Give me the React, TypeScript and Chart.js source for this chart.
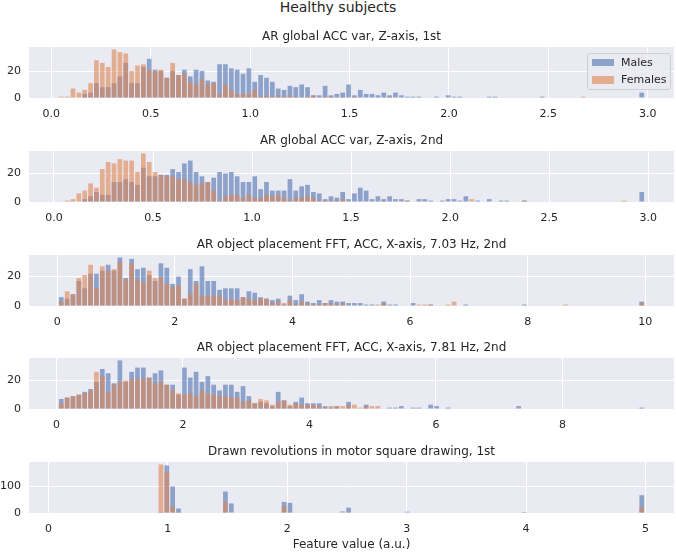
import React, { useEffect, useRef } from "react";
import { Chart, registerables } from "chart.js";

Chart.register(...registerables);

const FONT = "'DejaVu Sans', 'Liberation Sans', sans-serif";
const TEXT = "#262626";
const AXES_BG = "#EAEAF2";
const MALE_COLOR = "rgba(76, 114, 176, 0.6)";
const FEMALE_COLOR = "rgba(221, 132, 82, 0.6)";

Chart.defaults.font.family = FONT;
Chart.defaults.color = TEXT;

// ---------- text ----------
const SUPTITLE = "Healthy subjects";
const TITLES = [
  "AR global ACC var, Z-axis, 1st",
  "AR global ACC var, Z-axis, 2nd",
  "AR object placement FFT, ACC, X-axis, 7.03 Hz, 2nd",
  "AR object placement FFT, ACC, X-axis, 7.81 Hz, 2nd",
  "Drawn revolutions in motor square drawing, 1st",
];
const X_LABEL = "Feature value (a.u.)";
const LEGEND_LABELS = ["Males", "Females"];

// ---------- histogram bins (first edge, width) ----------
const BIN_STARTS = [0.035, 0.022, 0.02, 0.03, 0.083];
const BIN_WIDTHS = [0.0295, 0.0296, 0.0997, 0.0927, 0.0491];

// ---------- counts per bin ----------
const MALES_1 = [
  0, 0, 0, 0, 3, 4, 11, 8, 8, 11,
  16, 26, 11, 11, 23, 29, 21, 20, 15, 20,
  17, 21, 16, 21, 20, 13, 12, 25, 25, 22,
  21, 18, 22, 12, 17, 15, 12, 7, 6, 9,
  8, 10, 8, 2, 2, 9, 2, 3, 4, 10,
  2, 6, 3, 3, 2, 4, 2, 4, 2, 1,
  1, 1, 0, 0, 1, 0, 2, 1, 1, 0,
  0, 0, 0, 1, 1, 0, 0, 0, 0, 0,
  0, 0, 1, 0, 0, 0, 0, 0, 0, 0,
  0, 0, 0, 0, 0, 0, 0, 0, 0, 4,
];
const FEMALES_1 = [
  1, 1, 7, 4, 6, 11, 28, 26, 23, 36,
  34, 33, 20, 24, 25, 21, 20, 21, 15, 26,
  17, 18, 12, 10, 14, 10, 11, 3, 10, 6,
  3, 3, 3, 6, 1, 2, 1, 2, 1, 2,
  1, 0, 1, 2, 0, 1, 1, 0, 1, 0,
  1, 0, 0, 0, 0, 0, 1, 0, 0, 0,
  0, 0, 0, 0, 0, 0, 0, 0, 0, 0,
  0, 0, 0, 0, 0, 0, 0, 0, 0, 0,
  0, 0, 0, 0, 0, 0, 0, 0, 0, 1,
  0, 0, 0, 0, 0, 0, 0, 0, 0, 0,
];
const MALES_2 = [
  0, 0, 0, 0, 2, 4, 7, 5, 5, 14,
  14, 16, 14, 12, 24, 18, 18, 19, 19, 23,
  21, 27, 29, 21, 18, 14, 17, 21, 20, 21,
  18, 14, 14, 18, 9, 14, 8, 8, 8, 16,
  8, 11, 12, 7, 6, 2, 4, 3, 7, 2,
  6, 10, 8, 2, 4, 2, 4, 2, 2, 1,
  0, 2, 2, 1, 0, 1, 2, 2, 1, 4,
  0, 1, 0, 2, 0, 1, 1, 0, 0, 1,
  0, 0, 0, 0, 0, 0, 0, 0, 0, 0,
  0, 0, 0, 0, 0, 0, 0, 0, 0, 7,
];
const FEMALES_2 = [
  0, 1, 2, 6, 8, 13, 10, 23, 28, 27,
  30, 29, 29, 21, 34, 28, 21, 19, 18, 18,
  16, 16, 14, 12, 13, 14, 8, 1, 4, 5,
  5, 3, 5, 3, 3, 5, 4, 5, 3, 1,
  3, 3, 4, 3, 1, 1, 1, 1, 2, 0,
  0, 0, 0, 0, 0, 1, 0, 0, 0, 1,
  0, 0, 0, 0, 0, 0, 0, 0, 0, 0,
  2, 0, 0, 0, 0, 0, 0, 0, 0, 1,
  0, 0, 0, 0, 0, 0, 0, 0, 0, 0,
  0, 0, 0, 0, 0, 0, 1, 0, 0, 0,
];
const MALES_3 = [
  6, 5, 8, 17, 12, 22, 22, 24, 28, 24,
  33, 19, 32, 25, 26, 21, 17, 29, 26, 15,
  20, 5, 25, 17, 27, 17, 17, 11, 12, 12,
  12, 6, 10, 9, 6, 5, 4, 5, 1, 7,
  4, 8, 3, 2, 4, 2, 4, 3, 3, 2,
  2, 2, 1, 1, 0, 3, 1, 1, 0, 0,
  2, 0, 0, 1, 0, 0, 0, 0, 0, 1,
  0, 0, 0, 0, 0, 0, 0, 0, 0, 1,
  0, 0, 0, 0, 0, 0, 0, 0, 0, 0,
  0, 0, 0, 0, 0, 0, 0, 0, 0, 3,
];
const FEMALES_3 = [
  3, 10, 8, 19, 21, 28, 12, 27, 24, 25,
  30, 18, 29, 18, 16, 24, 19, 19, 15, 13,
  14, 5, 8, 15, 7, 7, 7, 7, 4, 5,
  4, 6, 5, 4, 5, 5, 2, 3, 2, 4,
  1, 3, 2, 1, 1, 2, 2, 1, 2, 0,
  0, 0, 0, 0, 1, 2, 0, 0, 0, 0,
  0, 1, 1, 1, 0, 0, 1, 3, 0, 0,
  0, 0, 0, 0, 0, 0, 0, 0, 0, 0,
  0, 0, 0, 0, 0, 0, 1, 0, 0, 0,
  0, 0, 0, 0, 0, 0, 0, 0, 0, 2,
];
const MALES_4 = [
  7, 8, 9, 10, 12, 14, 19, 28, 25, 18,
  34, 19, 26, 29, 29, 22, 25, 27, 17, 17,
  10, 29, 22, 26, 19, 23, 17, 13, 17, 17,
  12, 16, 9, 4, 5, 4, 2, 12, 6, 2,
  5, 8, 4, 4, 4, 2, 1, 2, 0, 5,
  0, 0, 3, 0, 0, 0, 1, 1, 2, 0,
  1, 1, 0, 3, 2, 0, 1, 0, 0, 0,
  0, 0, 0, 0, 0, 0, 0, 0, 2, 0,
  0, 0, 0, 0, 0, 0, 0, 0, 0, 0,
  0, 0, 0, 0, 0, 0, 0, 0, 0, 1,
];
const FEMALES_4 = [
  4, 8, 9, 10, 11, 13, 26, 23, 12, 17,
  19, 20, 21, 21, 21, 22, 18, 19, 17, 13,
  11, 10, 11, 9, 13, 11, 10, 9, 9, 8,
  8, 5, 6, 4, 7, 6, 3, 5, 6, 3,
  4, 3, 3, 3, 2, 1, 2, 2, 2, 3,
  3, 1, 2, 2, 2, 0, 0, 0, 0, 0,
  0, 0, 0, 0, 0, 0, 0, 0, 0, 0,
  0, 0, 0, 0, 0, 0, 0, 0, 0, 0,
  0, 0, 0, 0, 0, 0, 0, 0, 0, 0,
  0, 0, 0, 0, 0, 0, 0, 0, 0, 0,
];
const MALES_5 = [
  0, 0, 0, 0, 0, 0, 0, 0, 0, 0,
  0, 0, 0, 0, 0, 0, 0, 4, 179, 100,
  17, 0, 0, 0, 0, 0, 0, 0, 81, 36,
  0, 0, 0, 0, 0, 0, 0, 0, 42, 38,
  0, 0, 0, 0, 0, 0, 0, 0, 6, 20,
  0, 0, 0, 0, 0, 0, 0, 0, 0, 5,
  0, 0, 0, 0, 0, 0, 0, 0, 0, 2,
  0, 0, 0, 0, 0, 0, 0, 0, 0, 4,
  0, 0, 0, 0, 0, 0, 0, 0, 0, 0,
  0, 0, 0, 0, 0, 0, 0, 0, 0, 67,
];
const FEMALES_5 = [
  0, 0, 0, 0, 0, 0, 0, 0, 0, 0,
  0, 0, 0, 0, 0, 0, 0, 183, 154, 23,
  4, 0, 0, 0, 0, 0, 0, 0, 42, 2,
  0, 0, 0, 0, 0, 0, 0, 0, 26, 5,
  0, 0, 0, 0, 0, 0, 0, 0, 0, 5,
  0, 0, 0, 0, 0, 0, 0, 0, 0, 0,
  0, 0, 0, 0, 0, 0, 0, 0, 0, 0,
  0, 0, 0, 0, 0, 0, 0, 0, 0, 0,
  0, 0, 0, 0, 0, 0, 0, 0, 0, 0,
  0, 0, 0, 0, 0, 0, 0, 0, 0, 20,
];

// ---------- ticks ----------
const X_TICKS_1 = [0, 0.5, 1, 1.5, 2, 2.5, 3];
const X_TICKS_2 = [0, 0.5, 1, 1.5, 2, 2.5, 3];
const X_TICKS_3 = [0, 2, 4, 6, 8, 10];
const X_TICKS_4 = [0, 2, 4, 6, 8];
const X_TICKS_5 = [0, 1, 2, 3, 4, 5];
const X_TICK_DECIMALS = [1, 1, 0, 0, 0];
const Y_TICKS_1 = [0, 20];
const Y_TICKS_2 = [0, 20];
const Y_TICKS_3 = [0, 20];
const Y_TICKS_4 = [0, 20];
const Y_TICKS_5 = [0, 100];

const MALES = [MALES_1, MALES_2, MALES_3, MALES_4, MALES_5];
const FEMALES = [FEMALES_1, FEMALES_2, FEMALES_3, FEMALES_4, FEMALES_5];
const X_TICKS = [X_TICKS_1, X_TICKS_2, X_TICKS_3, X_TICKS_4, X_TICKS_5];
const Y_TICKS = [Y_TICKS_1, Y_TICKS_2, Y_TICKS_3, Y_TICKS_4, Y_TICKS_5];

// ---------- layout ----------
const FIG_W = 676;
const FIG_H = 552;
const PLOT_TOPS = [47, 151, 255, 358, 462];
const PLOT_H = 51;
const HEAD_H = 21;
const AXIS_H = [24, 24, 24, 24, 39];
const PLOT_LEFT = 29;
const PLOT_RIGHT = 674;

const axesBackground = {
  id: "axesBackground",
  beforeDraw(chart: any) {
    const { ctx, chartArea: a } = chart;
    ctx.save();
    ctx.fillStyle = AXES_BG;
    ctx.fillRect(a.left, a.top, a.right - a.left, a.bottom - a.top);
    ctx.restore();
  },
};

function makeConfig(k: number): any {
  const start = BIN_STARTS[k];
  const w = BIN_WIDTHS[k];
  const males = MALES[k];
  const females = FEMALES[k];
  const n = males.length;
  const toPoints = (arr: number[]) => arr.map((y, i) => ({ x: start + w * (i + 0.5), y }));
  const lo = start;
  const hi = start + w * n;
  const margin = 0.05 * (hi - lo);
  const ymax = 1.05 * Math.max(...males, ...females);
  const dec = X_TICK_DECIMALS[k];
  const isLast = k === MALES.length - 1;

  return {
    type: "bar",
    data: {
      datasets: [
        { label: LEGEND_LABELS[1], data: toPoints(females), backgroundColor: FEMALE_COLOR, grouped: false, order: 0 },
        { label: LEGEND_LABELS[0], data: toPoints(males), backgroundColor: MALE_COLOR, grouped: false, order: 1 },
      ],
    },
    plugins: [axesBackground],
    options: {
      animation: false,
      responsive: false,
      maintainAspectRatio: false,
      events: [],
      layout: { padding: { top: HEAD_H - 20.4, left: 0, right: FIG_W - PLOT_RIGHT, bottom: 0 } },
      datasets: { bar: { barPercentage: 0.8, categoryPercentage: 1 } },
      plugins: {
        legend: { display: false },
        tooltip: { enabled: false },
        title: {
          display: true,
          text: TITLES[k],
          fullSize: false,
          color: TEXT,
          font: { size: 12, weight: "normal", family: FONT },
          padding: { top: 3, bottom: 3 },
        },
      },
      scales: {
        x: {
          type: "linear",
          bounds: "data",
          min: lo - margin,
          max: hi + margin,
          offset: false,
          grid: { color: "#ffffff", lineWidth: 1, drawTicks: false, offset: false },
          border: { display: false },
          ticks: {
            color: TEXT,
            font: { size: 11, family: FONT },
            padding: 9.5,
            autoSkip: false,
            maxRotation: 0,
            callback: (v: any) => Number(v).toFixed(dec),
          },
          title: isLast
            ? { display: true, text: X_LABEL, color: TEXT, font: { size: 12, family: FONT }, padding: { top: 0, bottom: 0 } }
            : { display: false },
          afterBuildTicks: (scale: any) => {
            scale.ticks = X_TICKS[k].map((v) => ({ value: v }));
          },
          afterFit: (scale: any) => {
            scale.height = AXIS_H[k];
            scale.paddingLeft = 0;
            scale.paddingRight = 0;
            scale.paddingTop = 0;
            scale.paddingBottom = 0;
          },
        },
        y: {
          type: "linear",
          min: 0,
          max: ymax,
          grid: { color: "#ffffff", lineWidth: 1, drawTicks: false },
          border: { display: false },
          ticks: {
            color: TEXT,
            font: { size: 11, family: FONT },
            padding: 8,
            autoSkip: false,
            callback: (v: any) => String(v),
          },
          afterBuildTicks: (scale: any) => {
            scale.ticks = Y_TICKS[k].map((v) => ({ value: v }));
          },
          afterFit: (scale: any) => {
            scale.width = PLOT_LEFT;
            scale.paddingLeft = 0;
            scale.paddingRight = 0;
            scale.paddingTop = 0;
            scale.paddingBottom = 0;
          },
        },
      },
    },
  };
}

function Subplot({ k }: { k: number }) {
  const ref = useRef<HTMLCanvasElement>(null);
  const h = HEAD_H + PLOT_H + AXIS_H[k];
  const top = PLOT_TOPS[k] - HEAD_H;
  useEffect(() => {
    const chart = new Chart(ref.current as HTMLCanvasElement, makeConfig(k));
    return () => chart.destroy();
  }, [k]);
  return (
    <canvas
      ref={ref}
      width={FIG_W}
      height={h}
      style={{ position: "absolute", left: 0, top, width: FIG_W, height: h, display: "block" }}
    />
  );
}

function Legend() {
  const rows = [
    { label: LEGEND_LABELS[0], color: MALE_COLOR },
    { label: LEGEND_LABELS[1], color: FEMALE_COLOR },
  ];
  return (
    <div
      style={{
        position: "absolute",
        left: 587,
        top: 53,
        width: 84,
        height: 37,
        boxSizing: "border-box",
        background: "rgba(234,234,242,0.85)",
        border: "1px solid #d0d0d0",
        borderRadius: 3,
      }}
    >
      {rows.map((r, i) => (
        <div key={r.label}>
          <div
            style={{
              position: "absolute",
              left: 4,
              top: 4.6 + i * 17.5,
              width: 22,
              height: 7.5,
              background: r.color,
            }}
          />
          <div
            style={{
              position: "absolute",
              left: 33,
              top: 1.5 + i * 17.5,
              fontSize: 11,
              lineHeight: "13px",
              fontFamily: FONT,
              color: TEXT,
              whiteSpace: "nowrap",
            }}
          >
            {r.label}
          </div>
        </div>
      ))}
    </div>
  );
}

export default function App() {
  useEffect(() => {
    document.body.style.margin = "0";
  }, []);
  return (
    <div
      style={{
        position: "relative",
        width: FIG_W,
        height: FIG_H,
        overflow: "hidden",
        background: "#ffffff",
        fontFamily: FONT,
      }}
    >
      <div
        style={{
          position: "absolute",
          left: 0,
          top: 0,
          width: FIG_W,
          textAlign: "center",
          fontSize: 14,
          lineHeight: "14px",
          color: TEXT,
        }}
      >
        {SUPTITLE}
      </div>
      {MALES.map((_, k) => (
        <Subplot key={k} k={k} />
      ))}
      <Legend />
    </div>
  );
}
